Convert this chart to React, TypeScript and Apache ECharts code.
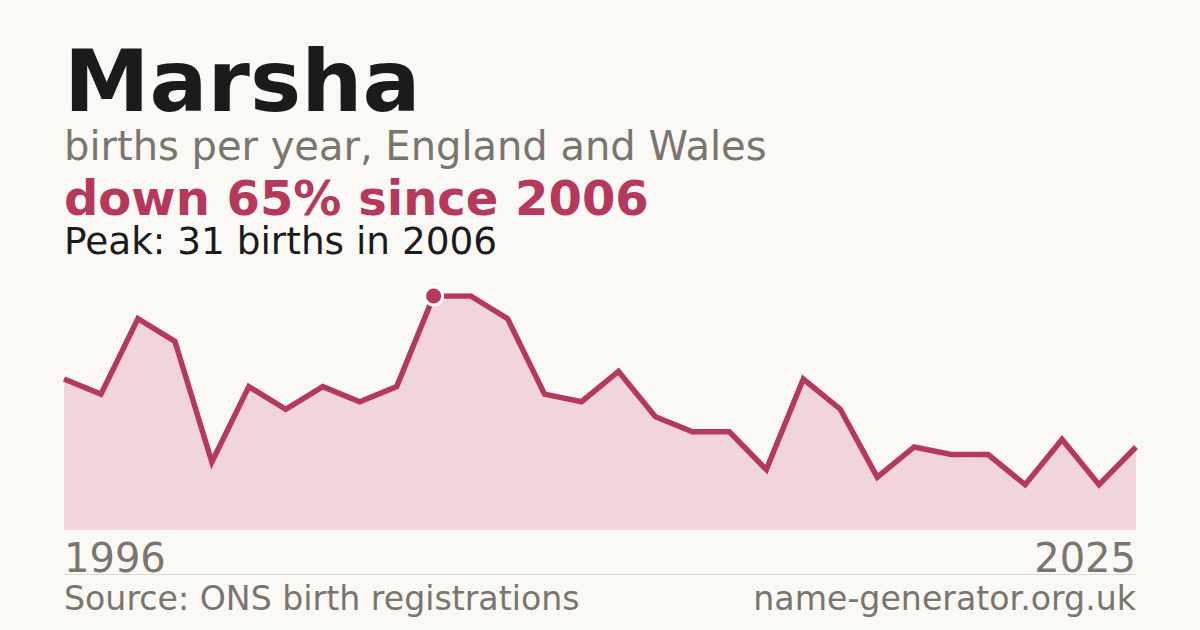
import React, { useEffect, useRef } from 'react';
import * as echarts from 'echarts';

// births per year
const years = [
  '1996', '1997', '1998', '1999', '2000', '2001', '2002', '2003', '2004', '2005',
  '2006', '2007', '2008', '2009', '2010', '2011', '2012', '2013', '2014', '2015',
  '2016', '2017', '2018', '2019', '2020', '2021', '2022', '2023', '2024', '2025',
];
const births = [
  20, 18, 28, 25, 9, 19, 16, 19, 17, 19,
  31, 31, 28, 18, 17, 21, 15, 13, 13, 8,
  20, 16, 7, 11, 10, 10, 6, 12, 6, 11,
];
const peakYear = '2006';
const peakValue = 31;

const titleText = 'Marsha';
const subtitleText = 'births per year, England and Wales';
const changeText = 'down 65% since 2006';
const peakText = 'Peak: 31 births in 2006';
const sourceText = 'Source: ONS birth registrations';
const siteText = 'name-generator.org.uk';

const FONT = "'DejaVu Sans', sans-serif";
const ACCENT = '#b5395a';
const GREY = '#7a756d';

// text centred on y (middle of the em box), tight line height so boxes don't collide
const label = (text: string, x: number, y: number, size: number, fill: string, bold = false, align = 'left') => ({
  type: 'text',
  x,
  y,
  style: {
    text,
    font: `${bold ? 'bold ' : ''}${size}px ${FONT}`,
    fill,
    align,
    verticalAlign: 'middle',
    lineHeight: Math.round(size * 0.8),
  },
});

const App: React.FC = () => {
  const chartRef = useRef<HTMLDivElement>(null);

  useEffect(() => {
    const chart = echarts.init(chartRef.current!, null, { renderer: 'svg' });
    const last = years.length - 1;

    const options = {
      animation: false,
      backgroundColor: '#faf9f5',
      textStyle: { fontFamily: FONT },
      grid: { left: 64, right: 64, top: 296, bottom: 100 },
      xAxis: {
        type: 'category',
        data: years,
        boundaryGap: false,
        axisLine: { show: false },
        axisTick: { show: false },
        splitLine: { show: false },
        axisLabel: {
          interval: (idx: number) => idx === 0 || idx === last,
          color: GREY,
          fontSize: 40,
          fontFamily: FONT,
          margin: 8,
          alignMinLabel: 'left',
          alignMaxLabel: 'right',
        },
      },
      yAxis: {
        type: 'value',
        min: 0,
        max: peakValue,
        show: false,
      },
      graphic: [
        label(titleText, 64, 81, 86, '#1b1b1b', true),
        label(subtitleText, 64, 146, 40, GREY),
        label(changeText, 64, 198, 48, ACCENT, true),
        label(peakText, 64, 241, 37.4, '#1b1b1b'),
        {
          type: 'line',
          shape: { x1: 64, y1: 574.5, x2: 1136, y2: 574.5 },
          style: { stroke: '#dedbd4', lineWidth: 1 },
        },
        label(sourceText, 64, 598, 33.2, GREY),
        label(siteText, 1136, 598, 33.2, GREY, false, 'right'),
      ],
      series: [
        {
          type: 'line',
          data: births,
          symbol: 'none',
          lineStyle: { color: ACCENT, width: 5.5, join: 'miter' },
          areaStyle: { color: '#f2d5db', opacity: 1 },
          markPoint: {
            symbol: 'circle',
            symbolSize: 18,
            label: { show: false },
            itemStyle: { color: ACCENT, borderColor: '#ffffff', borderWidth: 3 },
            data: [{ coord: [peakYear, peakValue] }],
          },
        },
      ],
    };

    chart.setOption(options);

    return () => {
      chart.dispose();
    };
  }, []);

  return (
    <div
      ref={chartRef}
      style={{ position: 'fixed', left: 0, top: 0, width: '1200px', height: '630px' }}
    />
  );
};

export default App;
